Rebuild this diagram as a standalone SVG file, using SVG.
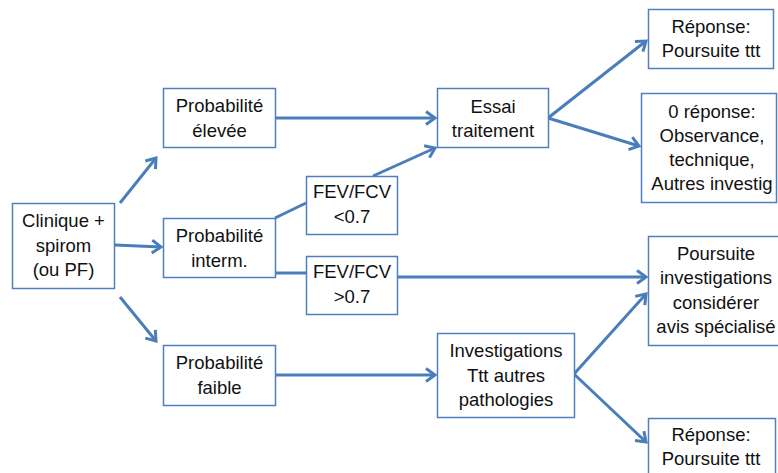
<svg xmlns="http://www.w3.org/2000/svg" width="778" height="473" viewBox="0 0 778 473">
<style>
.box{fill:#ffffff;stroke:#4f7fbf;stroke-width:1.5}
.t{font-family:"Liberation Sans",Arial,sans-serif;font-size:18.5px;fill:#111;text-anchor:middle}
.c{stroke:#4a7ebb;stroke-width:3;fill:none}
</style>
<defs>
<marker id="arr" markerUnits="userSpaceOnUse" viewBox="-13 -9 16 18" markerWidth="16" markerHeight="18" refX="0" refY="0" orient="auto">
<path d="M-9,-6.5 L0,0 L-9,6.5" fill="none" stroke="#4a7ebb" stroke-width="3" stroke-linejoin="miter"/>
</marker>
</defs>
<rect width="778" height="473" fill="#ffffff"/>
<g id="connectors">
<line class="c" x1="120" y1="203" x2="156" y2="158" marker-end="url(#arr)"/>
<line class="c" x1="115" y1="245" x2="161" y2="247" marker-end="url(#arr)"/>
<line class="c" x1="120" y1="297" x2="156" y2="341" marker-end="url(#arr)"/>
<line class="c" x1="275" y1="118" x2="435" y2="118" marker-end="url(#arr)"/>
<line class="c" x1="373" y1="176" x2="435" y2="148" marker-end="url(#arr)"/>
<line class="c" x1="275" y1="218" x2="306" y2="203"/>
<line class="c" x1="275" y1="273" x2="306" y2="273"/>
<line class="c" x1="397" y1="277" x2="646" y2="277" marker-end="url(#arr)"/>
<line class="c" x1="548" y1="118" x2="646" y2="41" marker-end="url(#arr)"/>
<line class="c" x1="548" y1="118" x2="639" y2="146" marker-end="url(#arr)"/>
<line class="c" x1="275" y1="375" x2="435" y2="375" marker-end="url(#arr)"/>
<line class="c" x1="574" y1="374" x2="646" y2="294" marker-end="url(#arr)"/>
<line class="c" x1="574" y1="374" x2="646" y2="442" marker-end="url(#arr)"/>
</g>
<g id="clinique">
<rect class="box" x="12.5" y="203.5" width="102" height="85"/>
<text class="t" x="63.5" y="227">Clinique +</text>
<text class="t" x="63.5" y="252">spirom</text>
<text class="t" x="63.5" y="276">(ou PF)</text>
</g>
<g id="prob-elevee">
<rect class="box" x="163.5" y="88.5" width="112" height="59"/>
<text class="t" x="219.5" y="112">Probabilité</text>
<text class="t" x="219.5" y="137">élevée</text>
</g>
<g id="prob-interm">
<rect class="box" x="163.5" y="218.5" width="112" height="59"/>
<text class="t" x="219.5" y="242">Probabilité</text>
<text class="t" x="219.5" y="267">interm.</text>
</g>
<g id="prob-faible">
<rect class="box" x="163.5" y="345.5" width="112" height="60"/>
<text class="t" x="219.5" y="369">Probabilité</text>
<text class="t" x="219.5" y="394">faible</text>
</g>
<g id="fev-inf">
<rect class="box" x="306.5" y="176.5" width="91" height="58"/>
<text class="t" x="352" y="198">FEV/FCV</text>
<text class="t" x="352" y="223">&lt;0.7</text>
</g>
<g id="fev-sup">
<rect class="box" x="306.5" y="256.5" width="91" height="58"/>
<text class="t" x="352" y="278">FEV/FCV</text>
<text class="t" x="352" y="303">&gt;0.7</text>
</g>
<g id="essai">
<rect class="box" x="437.5" y="88.5" width="111" height="59"/>
<text class="t" x="493" y="113">Essai</text>
<text class="t" x="493" y="137">traitement</text>
</g>
<g id="reponse-top">
<rect class="box" x="648.5" y="9.5" width="125" height="59"/>
<text class="t" x="711" y="33">Réponse:</text>
<text class="t" x="711" y="57">Poursuite ttt</text>
</g>
<g id="zero-reponse">
<rect class="box" x="641.5" y="93.5" width="135" height="109"/>
<text class="t" x="712" y="118">0 réponse:</text>
<text class="t" x="712" y="142">Observance,</text>
<text class="t" x="712" y="166">technique,</text>
<text class="t" x="712" y="190">Autres investig</text>
</g>
<g id="poursuite-inv">
<rect class="box" x="648.5" y="236.5" width="136" height="109"/>
<text class="t" x="716" y="260">Poursuite</text>
<text class="t" x="716" y="284">investigations</text>
<text class="t" x="716" y="309">considérer</text>
<text class="t" x="716" y="333">avis spécialisé</text>
</g>
<g id="investigations">
<rect class="box" x="437.5" y="333.5" width="137" height="84"/>
<text class="t" x="506" y="357">Investigations</text>
<text class="t" x="506" y="382">Ttt autres</text>
<text class="t" x="506" y="406">pathologies</text>
</g>
<g id="reponse-bottom">
<rect class="box" x="648.5" y="418.5" width="127" height="60"/>
<text class="t" x="711" y="441">Réponse:</text>
<text class="t" x="711" y="465">Poursuite ttt</text>
</g>
</svg>
